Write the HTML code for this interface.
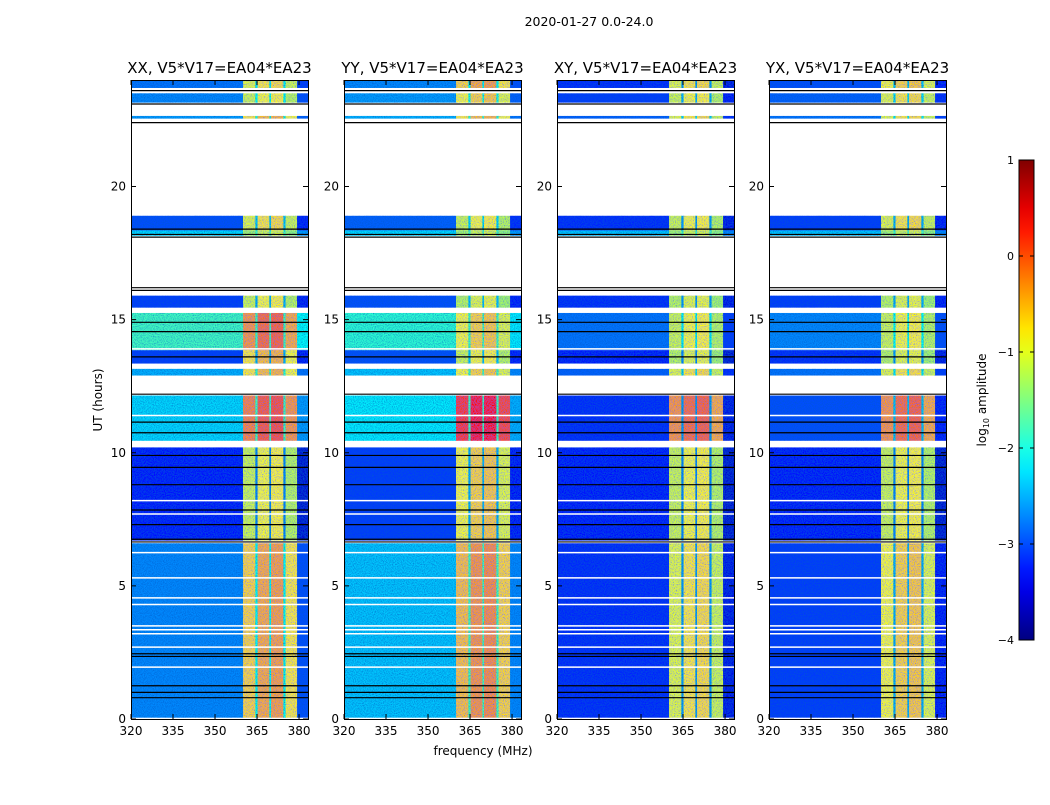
<!DOCTYPE html>
<html><head><meta charset="utf-8"><style>
body{margin:0;background:#fff;}
svg text{font-family:"DejaVu Sans","Liberation Sans",sans-serif;fill:#000;}
</style></head><body>
<svg id="fig" width="1050" height="800" xmlns="http://www.w3.org/2000/svg">
<defs>
<filter id="noise" x="0" y="0" width="100%" height="100%">
<feTurbulence type="fractalNoise" baseFrequency="0.9" numOctaves="2" seed="3" result="t"/>
<feColorMatrix in="t" type="matrix" values="0 0 0 0 0  0 0 0 0 0.1  0 0 0 0 0.6  0 0 0 -1.6 1.05" result="n"/>
<feComposite in="n" in2="SourceGraphic" operator="in" result="nc"/>
<feMerge><feMergeNode in="SourceGraphic"/><feMergeNode in="nc"/></feMerge>
</filter>
</defs>
<text x="589" y="26" font-size="12.5" text-anchor="middle">2020-01-27 0.0-24.0</text>
<text x="483" y="755" font-size="12" text-anchor="middle">frequency (MHz)</text>
<text transform="translate(102,400) rotate(-90)" font-size="12" text-anchor="middle">UT (hours)</text>
<g id="panels"></g>
<g id="cbar"></g>
</svg>
<script>
const panelTitles = ["XX, V5*V17=EA04*EA23","YY, V5*V17=EA04*EA23","XY, V5*V17=EA04*EA23","YX, V5*V17=EA04*EA23"];
const segStart = [23.7,23.15,22.55,18.35,18.15,15.45,13.85,13.35,12.9,10.45,6.7,0.05];
const segEnd   = [23.98,23.5,22.65,18.9,18.35,15.9,15.25,13.85,13.15,12.15,10.2,6.6];
const baseP1 = [-2.8,-2.7,-2.6,-3.0,-2.3,-3.1,-1.8,-3.1,-2.5,-2.3,-3.3,-2.7];
const baseP2 = [-2.7,-2.6,-2.5,-2.9,-2.3,-3.0,-1.9,-3.0,-2.4,-2.2,-3.1,-2.4];
const baseP3 = [-3.2,-3.1,-2.9,-3.2,-2.4,-3.2,-2.8,-3.3,-2.9,-3.2,-3.3,-3.2];
const baseP4 = [-3.0,-2.9,-2.8,-3.1,-2.4,-3.1,-2.7,-3.2,-2.8,-3.0,-3.3,-3.1];
const rfiP1 = [-0.9,-1.0,-0.7,-0.9,-1.2,-1.0,-0.3,-0.7,-0.7,-0.2,-1.0,-0.6];
const rfiP2 = [-0.6,-0.8,-0.7,-1.0,-1.2,-1.1,-0.8,-1.0,-0.8,0.2,-0.8,-0.5];
const rfiP3 = [-0.9,-1.0,-0.9,-1.0,-1.2,-1.1,-1.0,-1.1,-0.9,-0.3,-1.0,-0.9];
const rfiP4 = [-0.8,-0.9,-0.9,-0.9,-1.2,-1.1,-1.0,-1.1,-0.9,-0.3,-1.0,-0.8];
const colStart = [320,360,364.4,365.2,369.4,370,374.4,375.2,379.3];
const colEnd   = [360,364.4,365.2,369.4,370,374.4,375.2,379.3,383.2];
const colKind  = ["base","rfi","gap","rfi","gap","rfi","gap","rfi","edge"];
const colOffset= [0,-0.1,0,0.1,0,0.15,0,-0.2,0];
const blackLines = [23.6,23.1,22.4,18.4,18.2,18.1,16.2,16.1,14.9,14.55,13.6,12.2,11.15,10.75,9.9,9.45,8.8,7.85,7.3,6.75,6.65,2.45,2.35,1.25,1.0,0.8];
const whiteLines = [13.9,11.4,8.2,7.7,6.25,5.3,4.55,4.3,3.5,3.35,3.2,2.7,1.95];
const xTicks = [320,335,350,365,380];
const yTicks = [0,5,10,15,20];
const cbTicks = [1,0,-1,-2,-3,-4];

const bases=[baseP1,baseP2,baseP3,baseP4], rfis=[rfiP1,rfiP2,rfiP3,rfiP4];
const panelLeft=[131,344,557,769], PW=177, TOP=80, BOT=719;
const NS="http://www.w3.org/2000/svg";
function jet(v){
  let t=Math.max(0,Math.min(1,(v+4)/5));
  const f=x=>Math.max(0,Math.min(1,1.5-Math.abs(4*t-x)));
  const r=f(3),g=f(2),b=f(1);
  return `rgb(${Math.round(r*255)},${Math.round(g*255)},${Math.round(b*255)})`;
}
function mk(tag,attrs,parent){const e=document.createElementNS(NS,tag);for(const k in attrs)e.setAttribute(k,attrs[k]);parent.appendChild(e);return e;}
const yS=t=>BOT-(t/24)*(BOT-TOP);
const panelsG=document.getElementById('panels');
for(let p=0;p<4;p++){
  const L=panelLeft[p];
  const xS=f=>L+(f-320)/(383.2-320)*PW;
  const g=mk('g',{},panelsG);
  
  
  const hm=mk('g',{filter:'url(#noise)'},g);
  
  
  for(let s=0;s<segStart.length;s++){
    for(let c=0;c<colStart.length;c++){
      let v;
      const b=bases[p][s], r=rfis[p][s];
      if(colKind[c]=="base") v=b;
      else if(colKind[c]=="rfi") v=r+colOffset[c];
      else if(colKind[c]=="gap") v=Math.min(b+0.6,-1.8);
      else v=b-0.3;
      const x0=xS(colStart[c]),x1=xS(colEnd[c]),y0=yS(segEnd[s]),y1=yS(segStart[s]);
      const rc=mk('rect',{x:x0,y:y0,width:x1-x0+0.3,height:y1-y0,fill:jet(v)},hm);
      
      
    }
  }
  whiteLines.forEach(t=>{const l=mk('line',{x1:L,x2:L+PW,y1:yS(t),y2:yS(t),stroke:'#fff','stroke-width':1.5},g);
    });
  blackLines.forEach(t=>{const l=mk('line',{x1:L,x2:L+PW,y1:yS(t),y2:yS(t),stroke:'#000','stroke-width':1.2},g);
    });
  const fr=mk('rect',{x:L+0.5,y:TOP+0.5,width:PW,height:BOT-TOP,fill:'none',stroke:'#000','stroke-width':1},g);
  
  yTicks.forEach(t=>{const y=yS(t);
    mk('line',{x1:L,x2:L+5,y1:y,y2:y,stroke:'#000'},g);
    mk('line',{x1:L+PW-5,x2:L+PW,y1:y,y2:y,stroke:'#000'},g);
    const tx=mk('text',{x:L-5,y:y+4,'font-size':12,'text-anchor':'end'},g);tx.textContent=t;
    });
  xTicks.forEach(f=>{const x=xS(f);
    mk('line',{x1:x,x2:x,y1:BOT,y2:BOT-5,stroke:'#000'},g);
    mk('line',{x1:x,x2:x,y1:TOP,y2:TOP+5,stroke:'#000'},g);
    const tx=mk('text',{x:x,y:BOT+16,'font-size':12,'text-anchor':'middle'},g);tx.textContent=f;
    });
  const ti=mk('text',{x:L+PW/2,y:73,'font-size':15,'text-anchor':'middle'},g);ti.textContent=panelTitles[p];
  
}
const cb=document.getElementById('cbar');
const CX=1019,CW=15,CT=160,CB=640;
const cbY=v=>CB-(v+4)/5*(CB-CT);
const defs=mk('defs',{},cb);
const gr=mk('linearGradient',{id:'jetg',x1:0,y1:1,x2:0,y2:0},defs);
for(let i=0;i<=20;i++){mk('stop',{offset:i/20,'stop-color':jet(-4+5*i/20)},gr);}
mk('rect',{x:CX,y:CT,width:CW,height:CB-CT,fill:'url(#jetg)',stroke:'#000','stroke-width':1},cb);
cbTicks.forEach(v=>{const y=cbY(v);
  mk('line',{x1:CX,x2:CX+4,y1:y,y2:y,stroke:'#000'},cb);
  mk('line',{x1:CX+CW-4,x2:CX+CW,y1:y,y2:y,stroke:'#000'},cb);
  const tx=mk('text',{x:CX-5,y:y+4,'font-size':11,'text-anchor':'end'},cb);tx.textContent=v<0?'\u2212'+(-v):v;
  });
const ct=mk('text',{transform:'translate(986,400) rotate(-90)','font-size':12,'text-anchor':'middle'},cb);
ct.innerHTML='log<tspan font-size="8" dy="3">10</tspan><tspan dy="-3"> amplitude</tspan>';

</script>
</body></html>
